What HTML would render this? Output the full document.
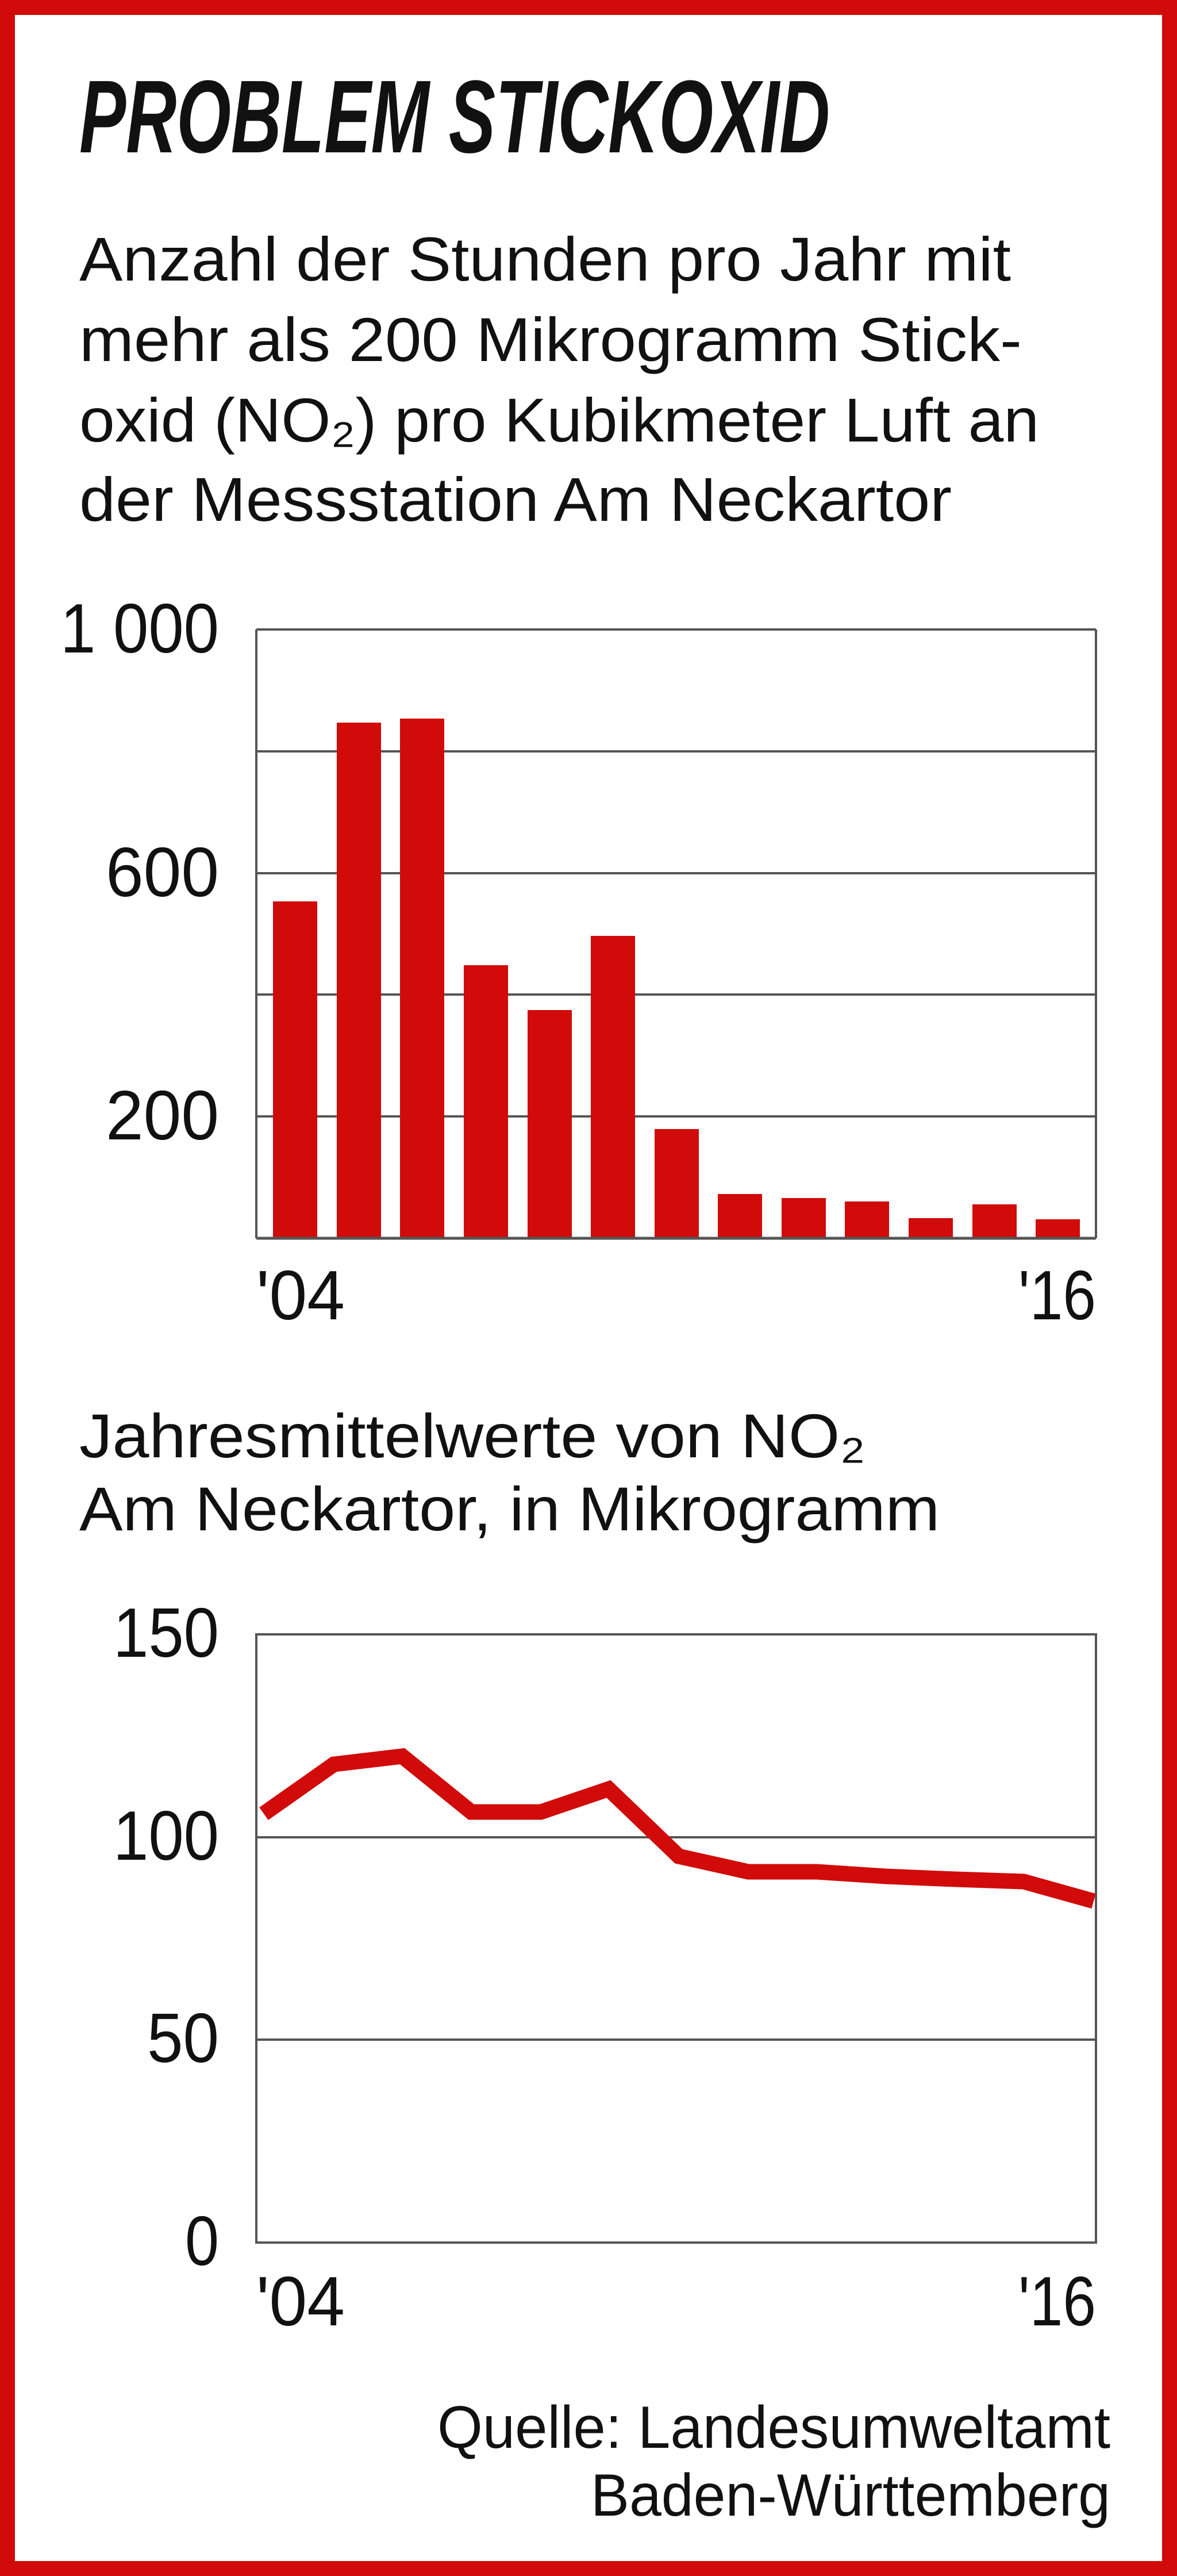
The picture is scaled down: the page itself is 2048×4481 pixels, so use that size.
<!DOCTYPE html>
<html><head><meta charset="utf-8"><style>
html,body{margin:0;padding:0;background:#fff}
svg{display:block}
text{font-family:"Liberation Sans",sans-serif;fill:#111}
</style></head><body>
<svg width="2048" height="4481" viewBox="0 0 2048 4481" xmlns="http://www.w3.org/2000/svg">
<rect x="0" y="0" width="2048" height="4481" fill="#fff"/>
<rect x="13" y="13" width="2022" height="4455" fill="none" stroke="#d10a0a" stroke-width="26"/>
<text x="138" y="265" font-size="180" font-weight="bold" font-style="italic" textLength="1306" lengthAdjust="spacingAndGlyphs">PROBLEM STICKOXID</text>
<g font-size="108">
<text x="138" y="488" textLength="1621" lengthAdjust="spacingAndGlyphs">Anzahl der Stunden pro Jahr mit</text>
<text x="138" y="628" textLength="1640" lengthAdjust="spacingAndGlyphs">mehr als 200 Mikrogramm Stick-</text>
<text x="138" y="768" textLength="1670" lengthAdjust="spacingAndGlyphs">oxid (NO₂) pro Kubikmeter Luft an</text>
<text x="138" y="906" textLength="1518" lengthAdjust="spacingAndGlyphs">der Messstation Am Neckartor</text>
</g>
<g stroke="#555" stroke-width="4">
<line x1="446" y1="1095" x2="1907" y2="1095"/>
<line x1="446" y1="1307" x2="1907" y2="1307"/>
<line x1="446" y1="1519" x2="1907" y2="1519"/>
<line x1="446" y1="1730" x2="1907" y2="1730"/>
<line x1="446" y1="1942" x2="1907" y2="1942"/>
<line x1="446" y1="1095" x2="446" y2="2154"/>
<line x1="1907" y1="1095" x2="1907" y2="2154"/>
</g>
<g fill="#d10a0a">
<rect x="475" y="1568" width="77" height="586"/>
<rect x="586" y="1257" width="77" height="897"/>
<rect x="696" y="1250" width="77" height="904"/>
<rect x="807" y="1679" width="77" height="475"/>
<rect x="918" y="1757" width="77" height="397"/>
<rect x="1028" y="1628" width="77" height="526"/>
<rect x="1139" y="1964" width="77" height="190"/>
<rect x="1249" y="2077" width="77" height="77"/>
<rect x="1360" y="2084" width="77" height="70"/>
<rect x="1470" y="2090" width="77" height="64"/>
<rect x="1581" y="2119" width="77" height="35"/>
<rect x="1692" y="2095" width="77" height="59"/>
<rect x="1802" y="2121" width="77" height="33"/>
</g>
<line x1="446" y1="2154" x2="1907" y2="2154" stroke="#555" stroke-width="5"/>
<g font-size="122" text-anchor="end">
<text x="381" y="1135" textLength="276" lengthAdjust="spacingAndGlyphs">1 000</text>
<text x="381" y="1559" textLength="197" lengthAdjust="spacingAndGlyphs">600</text>
<text x="381" y="1982" textLength="197" lengthAdjust="spacingAndGlyphs">200</text>
</g>
<g font-size="122">
<text x="446" y="2295" textLength="154" lengthAdjust="spacingAndGlyphs">'04</text>
<text x="1772" y="2295" textLength="135" lengthAdjust="spacingAndGlyphs">'16</text>
</g>
<g font-size="108">
<text x="138" y="2535" textLength="1368" lengthAdjust="spacingAndGlyphs">Jahresmittelwerte von NO₂</text>
<text x="138" y="2662" textLength="1497" lengthAdjust="spacingAndGlyphs">Am Neckartor, in Mikrogramm</text>
</g>
<g stroke="#555" stroke-width="4" fill="none">
<rect x="446" y="2843" width="1461" height="1058"/>
<line x1="446" y1="3196" x2="1907" y2="3196"/>
<line x1="446" y1="3548" x2="1907" y2="3548"/>
</g>
<polyline fill="none" stroke="#d10a0a" stroke-width="27" stroke-linejoin="miter" points="459,3155 581,3069 700,3055 820,3152 941,3152 1059,3112 1181,3229 1302,3256 1421,3256 1542,3264 1662,3269 1781,3273 1903,3307"/>
<g font-size="122" text-anchor="end">
<text x="381" y="2882" textLength="184" lengthAdjust="spacingAndGlyphs">150</text>
<text x="381" y="3235" textLength="184" lengthAdjust="spacingAndGlyphs">100</text>
<text x="381" y="3587" textLength="125" lengthAdjust="spacingAndGlyphs">50</text>
<text x="381" y="3940" textLength="59" lengthAdjust="spacingAndGlyphs">0</text>
</g>
<g font-size="122">
<text x="446" y="4045" textLength="154" lengthAdjust="spacingAndGlyphs">'04</text>
<text x="1772" y="4045" textLength="135" lengthAdjust="spacingAndGlyphs">'16</text>
</g>
<g font-size="104" text-anchor="end">
<text x="1932" y="4258" textLength="1171" lengthAdjust="spacingAndGlyphs">Quelle: Landesumweltamt</text>
<text x="1932" y="4376" textLength="904" lengthAdjust="spacingAndGlyphs">Baden-Württemberg</text>
</g>
</svg>
</body></html>
